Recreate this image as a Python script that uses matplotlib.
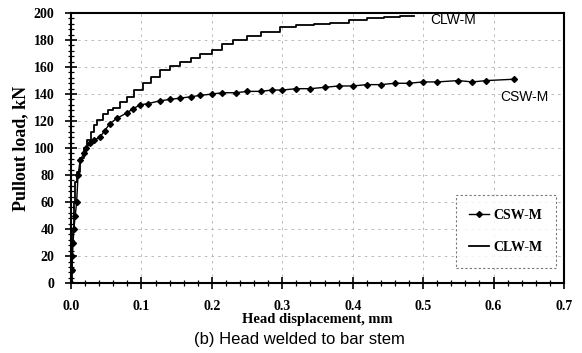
import numpy as np
import matplotlib.pyplot as plt
from matplotlib.ticker import MultipleLocator

# CSW-M (diamond markers)
csw_x = [0.0, 0.001, 0.002, 0.003, 0.004, 0.006, 0.008, 0.010, 0.013, 0.018, 0.022, 0.027,
         0.033, 0.041, 0.048, 0.055, 0.065, 0.079, 0.088, 0.098, 0.11, 0.126, 0.14, 0.155,
         0.17, 0.183, 0.20, 0.215, 0.235, 0.25, 0.27, 0.285, 0.30, 0.32, 0.34, 0.36, 0.38,
         0.40, 0.42, 0.44, 0.46, 0.48, 0.50, 0.52, 0.55, 0.57, 0.59, 0.629]
csw_y = [0, 10, 20, 30, 40, 50, 60, 80, 91, 96, 100, 104,
         106, 108, 113, 118, 122, 126, 129, 132, 133, 135, 136, 137,
         138, 139, 140, 141, 141, 142, 142, 143, 143, 144, 144, 145, 146,
         146, 147, 147, 148, 148, 149, 149, 150, 149, 150, 151]

# CLW-M (plain stepped line)
clw_x = [0.0, 0.001, 0.002, 0.004, 0.006, 0.009, 0.013, 0.018, 0.023, 0.028, 0.033, 0.037,
         0.045, 0.052, 0.06, 0.07, 0.079, 0.09, 0.102, 0.114, 0.126, 0.14, 0.155, 0.17,
         0.183, 0.20, 0.215, 0.23, 0.25, 0.27, 0.297, 0.32, 0.345, 0.368, 0.395, 0.42,
         0.445, 0.467, 0.487]
clw_y = [0, 20, 40, 60, 75, 82, 93, 100, 106, 112, 117, 121,
         125, 128, 130, 134, 138, 143, 148, 153, 158, 161, 164, 167,
         170, 173, 177, 180, 183, 186, 190, 191, 192, 193, 195, 196,
         197, 198, 198]

x_ticks = [0.0, 0.1, 0.2, 0.3, 0.4, 0.5, 0.6, 0.7]
y_ticks = list(range(0, 201, 20))

serif = "Liberation Serif"

fig = plt.figure(figsize=(5.82, 3.53), dpi=100)
ax = fig.add_axes([0.122, 0.198, 0.847, 0.765])

ax.plot(csw_x, csw_y, color="black", linewidth=1.0, marker="D", markersize=3,
        label="CSW-M")
ax.plot(clw_x, clw_y, color="black", linewidth=1.3, drawstyle="steps-post",
        label="CLW-M")

ax.set_xlim(0, 0.7)
ax.set_ylim(0, 200)
ax.set_xticks(x_ticks)
ax.set_xticklabels(["%.1f" % v for v in x_ticks])
ax.set_yticks(y_ticks)
ax.xaxis.set_minor_locator(MultipleLocator(0.02))
ax.yaxis.set_minor_locator(MultipleLocator(4))
ax.tick_params(which="major", direction="inout", length=8, width=1.2,
               labelsize=10, pad=8)
ax.tick_params(which="minor", direction="inout", length=5, width=0.9)
for lab in ax.get_xticklabels() + ax.get_yticklabels():
    lab.set_family(serif)
    lab.set_fontweight("bold")

for s in ax.spines.values():
    s.set_linewidth(1.5)

ax.grid(True, which="major", color="#b0b0b0", linestyle=(0, (3, 5)), linewidth=0.6)

ax.set_xlabel("Head displacement, mm", family=serif, fontweight="bold", fontsize=10.5,
              labelpad=0)
ax.set_ylabel("Pullout load, kN", family=serif, fontweight="bold", fontsize=13,
              labelpad=3)

ax.text(0.51, 195, "CLW-M", family="Liberation Sans", fontsize=10, va="center")
ax.text(0.61, 138, "CSW-M", family="Liberation Sans", fontsize=10, va="center")

leg = ax.legend(loc="lower right", bbox_to_anchor=(0.984, 0.056), borderaxespad=0,
                prop={"family": serif, "weight": "bold", "size": 10},
                fancybox=False, handlelength=1.4, borderpad=1.0, labelspacing=1.4,
                handletextpad=0.3)
leg.get_frame().set_edgecolor("#555555")
leg.get_frame().set_linestyle((0, (2, 2)))
leg.get_frame().set_linewidth(0.8)

fig.text(0.515, 0.025, "(b) Head welded to bar stem", family="Liberation Sans",
         fontsize=12, ha="center")

fig.savefig("out.png", dpi=100)
